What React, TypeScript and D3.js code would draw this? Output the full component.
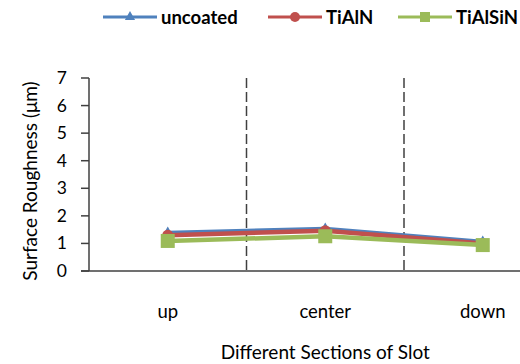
import React from "react";
import * as d3 from "d3";

const categories = ["up", "center", "down"];
const seriesNames = ["uncoated", "TiAlN", "TiAlSiN"];
const uncoated = [1.38, 1.52, 1.05];
const tialn = [1.3, 1.46, 1.0];
const tialsin = [1.09, 1.26, 0.94];
const yTicks = [0, 1, 2, 3, 4, 5, 6, 7];
const colors = ["#4F81BD", "#C0504D", "#9BBB59"];
const markers = ["triangle", "circle", "square"];

const W = 520;
const H = 364;
const FONT = "Lato, 'Open Sans', sans-serif";

export default function App() {
  const x0 = 89;
  const band = 157.5;
  const x = d3
    .scaleBand<string>()
    .domain(categories)
    .range([x0, x0 + band * categories.length]);
  const y = d3.scaleLinear().domain([0, 7]).range([271, 78]);
  const cx = (c: string) => (x(c) as number) + x.bandwidth() / 2;

  const allSeries = [uncoated, tialn, tialsin];
  const line = d3
    .line<number>()
    .x((_, i) => cx(categories[i]))
    .y((d) => y(d));

  const marker = (type: string, px: number, py: number, color: string, s: number, key?: string) => {
    if (type === "triangle") {
      const sym = d3.symbol(d3.symbolTriangle, s * s * 0.45)();
      return <path key={key} d={sym as string} transform={`translate(${px},${py})`} fill={color} />;
    }
    if (type === "circle") {
      return <circle key={key} cx={px} cy={py} r={s / 2} fill={color} />;
    }
    return <rect key={key} x={px - s / 2} y={py - s / 2} width={s} height={s} fill={color} />;
  };

  const markerSize = [11, 11, 14];
  const legendX = [103, 268, 398];

  return (
    <svg width={W} height={H} style={{ position: "absolute", left: 0, top: 0, background: "#fff" }}>
      {/* legend */}
      {seriesNames.map((n, i) => (
        <g key={n}>
          <line x1={legendX[i]} x2={legendX[i] + 54} y1={17} y2={17} stroke={colors[i]} strokeWidth={3} />
          {marker(markers[i], legendX[i] + 27, 17, colors[i], 10)}
          <text x={legendX[i] + 58} y={24} fontFamily={FONT} fontWeight="bold" fontSize={18.5} fill="#000">
            {n}
          </text>
        </g>
      ))}

      {/* dashed separators */}
      {categories.slice(1).map((c) => (
        <line
          key={c}
          x1={x(c)}
          x2={x(c)}
          y1={y(7)}
          y2={y(0)}
          stroke="#404040"
          strokeWidth={1.5}
          strokeDasharray="10,4"
        />
      ))}

      {/* y axis */}
      <line x1={x0} x2={x0} y1={y(7)} y2={y(0)} stroke="#404040" strokeWidth={1.5} />
      {yTicks.map((t) => (
        <g key={t}>
          <line x1={x0 - 8} x2={x0} y1={y(t)} y2={y(t)} stroke="#404040" strokeWidth={1.5} />
          <text x={67} y={y(t) + 6} textAnchor="end" fontFamily={FONT} fontSize={17.5} fill="#000">
            {t}
          </text>
        </g>
      ))}
      {/* x axis */}
      <line x1={x0 - 8} x2={W} y1={y(0)} y2={y(0)} stroke="#404040" strokeWidth={1.5} />

      {/* series */}
      {allSeries.map((s, i) => (
        <g key={seriesNames[i]}>
          <path d={line(s) as string} fill="none" stroke={colors[i]} strokeWidth={4.5} />
          {s.map((v, j) => marker(markers[i], cx(categories[j]), y(v), colors[i], markerSize[i], `${i}-${j}`))}
        </g>
      ))}

      {/* category labels */}
      {categories.map((c) => (
        <text key={c} x={cx(c)} y={318} textAnchor="middle" fontFamily={FONT} fontSize={18.5} fill="#000">
          {c}
        </text>
      ))}

      {/* axis titles */}
      <text
        transform={`translate(37,181) rotate(-90)`}
        textAnchor="middle"
        fontFamily={FONT}
        fontSize={19}
        fill="#000"
      >
        Surface Roughness (μm)
      </text>
      <text x={cx("center")} y={359} textAnchor="middle" fontFamily={FONT} fontSize={19} fill="#000">
        Different Sections of Slot
      </text>
    </svg>
  );
}
